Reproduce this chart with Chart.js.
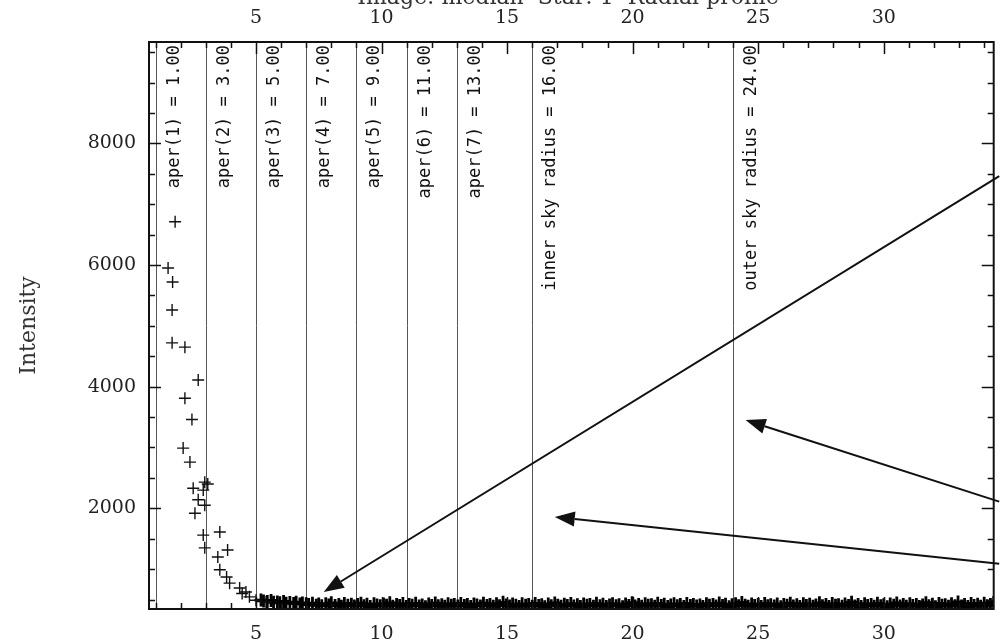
<!DOCTYPE html>
<html>
<head>
<meta charset="utf-8">
<script src="https://cdn.jsdelivr.net/npm/chart.js@4/dist/chart.umd.min.js"></script>
<style>
  html, body { margin: 0; padding: 0; background: #fff; overflow: hidden; }
  #wrap { width: 1002px; height: 644px; position: relative; overflow: hidden; }
  canvas { display: block; }
</style>
</head>
<body>
<div id="wrap"><canvas id="c" width="1003" height="644"></canvas></div>
<script>
// Radial profile of a star: pixel intensity against distance from the centre.
const plotTitle = 'Image: median  Star: 1  Radial profile';
const radiusRange = [0.74, 34.38];
const intensityRange = [345, 9666];
const radiusTickLabels = [5, 10, 15, 20, 25, 30];
const intensityTickLabels = [2000, 4000, 6000, 8000];

// Photometry apertures and sky annulus radii (pixels)
const apertureRadii = [1, 3, 5, 7, 9, 11, 13];
const innerSkyRadius = 16;
const outerSkyRadius = 24;

// Pixels in the stellar core: [radius, intensity]
const corePoints = [
  [1.78, 6710], [1.50, 5950], [1.68, 5720], [1.66, 5260], [1.66, 4720],
  [2.17, 4650], [2.70, 4110], [2.17, 3810], [2.45, 3460], [2.10, 2990],
  [2.37, 2760], [2.96, 2430], [2.50, 2330], [2.90, 2300], [3.08, 2400],
  [2.70, 2140], [2.96, 2050], [2.57, 1920], [2.90, 1560], [3.56, 1610],
  [2.96, 1350], [3.48, 1200], [3.87, 1315], [3.56, 990], [3.83, 870],
  [3.95, 770], [4.35, 690], [4.60, 625], [4.45, 600], [4.74, 545],
  [5.00, 490], [5.40, 460]
];

// Pixels in the wings and the sky: [radius, intensity]
const skyPoints = [
  [5.2, 492], [5.3, 478], [5.45, 470], [5.6, 486], [5.7, 455], [5.85, 462], [5.95, 448],
  [6.1, 470], [6.2, 441], [6.35, 452], [6.5, 436], [6.6, 458], [6.75, 428], [6.85, 445],
  [7.0, 432], [7.1, 418], [7.25, 440], [7.4, 405], [7.5, 426], [7.62, 398], [7.78, 431],
  [7.9, 412], [8.0, 447], [8.15, 402], [8.3, 420], [8.4, 390], [8.52, 436], [8.66, 408],
  [8.8, 425], [8.92, 395], [9.05, 418], [9.18, 440], [9.3, 400], [9.42, 422], [9.55, 386],
  [9.7, 430], [9.82, 410], [9.95, 397], [10.08, 428], [10.2, 405], [10.33, 446], [10.45, 392],
  [10.6, 417], [10.72, 401], [10.85, 434], [10.98, 388], [11.1, 419], [11.22, 407], [11.36, 438],
  [11.5, 396], [11.62, 412], [11.75, 383], [11.88, 427], [12.0, 404], [12.14, 442], [12.26, 398],
  [12.4, 415], [12.52, 389], [12.65, 431], [12.78, 406], [12.9, 420], [13.04, 393], [13.16, 437],
  [13.3, 402], [13.42, 418], [13.55, 385], [13.68, 429], [13.8, 409], [13.94, 396], [14.06, 441],
  [14.2, 403], [14.32, 421], [14.45, 390], [14.58, 433], [14.7, 400], [14.84, 455], [14.96, 411],
  [15.1, 394], [15.22, 426], [15.35, 405], [15.48, 387], [15.6, 430], [15.74, 408], [15.86, 419],
  [16.0, 392], [16.12, 436], [16.26, 404], [16.38, 415], [16.5, 382], [16.64, 428], [16.76, 399],
  [16.9, 444], [17.02, 407], [17.15, 389], [17.28, 422], [17.4, 401], [17.54, 435], [17.66, 395],
  [17.8, 413], [17.92, 386], [18.05, 429], [18.18, 405], [18.3, 418], [18.44, 391], [18.56, 438],
  [18.7, 400], [18.82, 424], [18.95, 387], [19.08, 411], [19.2, 432], [19.34, 398], [19.46, 416],
  [19.6, 384], [19.72, 427], [19.85, 403], [19.98, 448], [20.1, 396], [20.24, 420], [20.36, 389],
  [20.5, 433], [20.62, 407], [20.75, 414], [20.88, 392], [21.0, 439], [21.14, 401], [21.26, 423],
  [21.4, 386], [21.52, 410], [21.65, 430], [21.78, 397], [21.9, 417], [22.04, 385], [22.16, 436],
  [22.3, 404], [22.42, 421], [22.55, 393], [22.68, 412], [22.8, 388], [22.94, 431], [23.06, 406],
  [23.2, 419], [23.32, 395], [23.45, 442], [23.58, 402], [23.7, 425], [23.84, 384], [23.96, 415],
  [24.1, 433], [24.22, 399], [24.35, 452], [24.48, 408], [24.6, 390], [24.74, 427], [24.86, 403],
  [25.0, 418], [25.12, 387], [25.26, 437], [25.38, 400], [25.5, 414], [25.64, 393], [25.76, 429],
  [25.9, 382], [26.02, 421], [26.15, 405], [26.28, 440], [26.4, 396], [26.54, 416], [26.66, 388],
  [26.8, 432], [26.92, 402], [27.05, 423], [27.18, 391], [27.3, 410], [27.44, 446], [27.56, 397],
  [27.7, 419], [27.82, 385], [27.95, 434], [28.08, 406], [28.2, 413], [28.34, 390], [28.46, 428],
  [28.6, 401], [28.72, 458], [28.85, 394], [28.98, 417], [29.1, 386], [29.24, 431], [29.36, 404],
  [29.5, 420], [29.62, 392], [29.75, 438], [29.88, 399], [30.0, 415], [30.14, 383], [30.26, 426],
  [30.4, 408], [30.52, 444], [30.65, 395], [30.78, 418], [30.9, 389], [31.04, 433], [31.16, 402],
  [31.3, 421], [31.42, 387], [31.55, 412], [31.68, 449], [31.8, 398], [31.94, 424], [32.06, 384],
  [32.2, 436], [32.32, 405], [32.45, 416], [32.58, 391], [32.7, 430], [32.84, 400], [32.96, 462],
  [33.1, 393], [33.22, 419], [33.35, 386], [33.48, 437], [33.6, 404], [33.74, 425], [33.86, 389],
  [34.0, 441], [34.12, 397], [34.25, 418], [34.38, 452]
];

// Pointer arrows: tail and head in [radius, intensity]
const arrowTails = [[34.6, 7460], [34.6, 2110], [34.6, 1090]];
const arrowHeads = [[7.7, 625], [24.5, 3450], [16.9, 1858]];

const asXY = pts => pts.map(p => ({ x: p[0], y: p[1] }));
const plainLabel = v => String(v);

const guidesAndFrame = {
  id: 'guidesAndFrame',
  beforeDatasetsDraw(chart) {
    const { ctx, chartArea: a, scales } = chart;
    const xs = scales.x;
    const marks = apertureRadii.map((r, i) => ({ r, text: 'aper(' + (i + 1) + ') = ' + r.toFixed(2) }));
    marks.push({ r: innerSkyRadius, text: 'inner sky radius = ' + innerSkyRadius.toFixed(2) });
    marks.push({ r: outerSkyRadius, text: 'outer sky radius = ' + outerSkyRadius.toFixed(2) });
    ctx.save();
    ctx.beginPath();
    ctx.rect(a.left, a.top, a.right - a.left, a.bottom - a.top);
    ctx.clip();
    marks.forEach(m => {
      const px = Math.round(xs.getPixelForValue(m.r)) + 0.5;
      ctx.strokeStyle = '#555';
      ctx.lineWidth = 1;
      ctx.beginPath();
      ctx.moveTo(px, a.top);
      ctx.lineTo(px, a.bottom);
      ctx.stroke();
      ctx.save();
      ctx.translate(px + 18, a.top + 3);
      ctx.rotate(-Math.PI / 2);
      ctx.font = '17px "DejaVu Sans Mono"';
      ctx.fillStyle = '#111';
      ctx.textAlign = 'right';
      ctx.textBaseline = 'middle';
      ctx.fillText(m.text, 0, 0);
      ctx.restore();
    });
    ctx.restore();
  },
  afterDraw(chart) {
    const { ctx, chartArea: a, scales } = chart;
    const xs = scales.x, ys = scales.y;
    ctx.save();

    // inward tick marks on all four sides
    ctx.strokeStyle = '#111';
    ctx.lineWidth = 1.5;
    ctx.beginPath();
    for (let v = Math.ceil(radiusRange[0]); v <= radiusRange[1]; v += 1) {
      const px = Math.round(xs.getPixelForValue(v)) + 0.5;
      const len = v % 5 === 0 ? 12 : 6;
      ctx.moveTo(px, a.bottom); ctx.lineTo(px, a.bottom - len);
      ctx.moveTo(px, a.top); ctx.lineTo(px, a.top + len);
    }
    for (let v = 500; v <= intensityRange[1]; v += 500) {
      if (v < intensityRange[0]) continue;
      const py = Math.round(ys.getPixelForValue(v)) + 0.5;
      const len = v % 2000 === 0 ? 12 : 6;
      ctx.moveTo(a.left, py); ctx.lineTo(a.left + len, py);
      ctx.moveTo(a.right, py); ctx.lineTo(a.right - len, py);
    }
    ctx.stroke();

    // frame
    ctx.lineWidth = 2;
    ctx.strokeRect(a.left, a.top, a.right - a.left, a.bottom - a.top);

    // arrows
    ctx.strokeStyle = '#111';
    ctx.fillStyle = '#111';
    ctx.lineWidth = 2;
    arrowTails.forEach((t, i) => {
      const h = arrowHeads[i];
      const x0 = xs.getPixelForValue(t[0]), y0 = ys.getPixelForValue(t[1]);
      const x1 = xs.getPixelForValue(h[0]), y1 = ys.getPixelForValue(h[1]);
      const ang = Math.atan2(y1 - y0, x1 - x0);
      const L = 20, W = 7.5;
      const bx = x1 - L * Math.cos(ang), by = y1 - L * Math.sin(ang);
      ctx.beginPath();
      ctx.moveTo(x0, y0);
      ctx.lineTo(bx, by);
      ctx.stroke();
      ctx.beginPath();
      ctx.moveTo(x1, y1);
      ctx.lineTo(bx + W * Math.sin(ang), by - W * Math.cos(ang));
      ctx.lineTo(bx - W * Math.sin(ang), by + W * Math.cos(ang));
      ctx.closePath();
      ctx.fill();
    });

    // plot title (runs off the top edge)
    ctx.font = '22px "DejaVu Serif"';
    ctx.fillStyle = '#333';
    ctx.textAlign = 'center';
    ctx.textBaseline = 'alphabetic';
    ctx.fillText(plotTitle, 568, 4);
    ctx.restore();
  }
};

const tickFont = { family: 'DejaVu Serif', size: 19 };
const fitHorizontal = h => s => { s.height = h; s.paddingLeft = 0; s.paddingRight = 0; };

new Chart(document.getElementById('c'), {
  type: 'scatter',
  data: {
    datasets: [
      {
        label: 'core',
        data: asXY(corePoints),
        pointStyle: 'cross',
        pointRadius: 6,
        pointBorderWidth: 1.4,
        borderColor: '#111',
        backgroundColor: '#111',
        clip: 0
      },
      {
        label: 'sky',
        data: asXY(skyPoints),
        pointStyle: 'cross',
        pointRadius: 6.5,
        pointBorderWidth: 2.8,
        borderColor: '#000',
        backgroundColor: '#000',
        clip: 0
      }
    ]
  },
  options: {
    responsive: false,
    animation: false,
    devicePixelRatio: 1,
    events: [],
    layout: { padding: { left: 0, right: 0, top: 0, bottom: 0 } },
    plugins: { legend: { display: false }, tooltip: { enabled: false }, title: { display: false } },
    scales: {
      x: {
        type: 'linear',
        position: 'bottom',
        min: radiusRange[0],
        max: radiusRange[1],
        grid: { display: false, drawTicks: false },
        border: { display: false },
        afterBuildTicks: s => { s.ticks = radiusTickLabels.map(v => ({ value: v })); },
        afterFit: fitHorizontal(35),
        ticks: { autoSkip: false, maxRotation: 0, padding: 14, color: '#222', font: tickFont, callback: plainLabel }
      },
      x2: {
        type: 'linear',
        axis: 'x',
        position: 'top',
        min: radiusRange[0],
        max: radiusRange[1],
        grid: { display: false, drawTicks: false },
        border: { display: false },
        afterBuildTicks: s => { s.ticks = radiusTickLabels.map(v => ({ value: v })); },
        afterFit: fitHorizontal(42),
        ticks: { autoSkip: false, maxRotation: 0, padding: 13, color: '#222', font: tickFont, callback: plainLabel }
      },
      y: {
        type: 'linear',
        position: 'left',
        min: intensityRange[0],
        max: intensityRange[1],
        grid: { display: false, drawTicks: false },
        border: { display: false },
        afterBuildTicks: s => { s.ticks = intensityTickLabels.map(v => ({ value: v })); },
        afterFit: s => { s.width = 149; },
        ticks: { autoSkip: false, padding: 13, color: '#222', font: tickFont, callback: plainLabel },
        title: {
          display: true,
          text: 'Intensity',
          color: '#333',
          font: { family: 'DejaVu Serif', size: 22 },
          padding: { top: 16, bottom: 0 }
        }
      }
    }
  },
  plugins: [guidesAndFrame]
});
</script>
</body>
</html>
